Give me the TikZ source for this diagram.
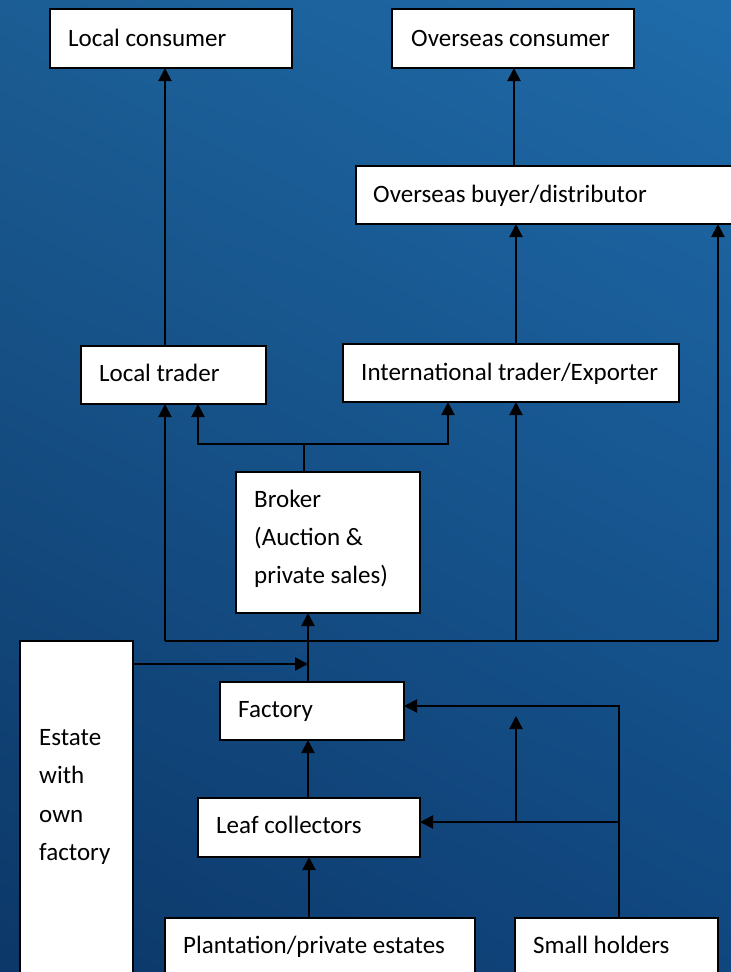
\documentclass[tikz,border=0pt]{standalone}
\usepackage{fontspec}
\setmainfont{Carlito}
\usetikzlibrary{arrows.meta,shadings}
\definecolor{bgUL}{RGB}{27,93,148}
\definecolor{bgUR}{RGB}{31,107,170}
\definecolor{bgLL}{RGB}{12,55,104}
\definecolor{bgLR}{RGB}{16,70,126}
\newcommand{\diagbox}[5]{\node[box,anchor=north west,minimum width={(#4-#2)*1pt},minimum height={(#5-#3)*1pt}] (#1) at (#2,#3) {};}
\begin{document}
\begin{tikzpicture}[x=1pt,y=-1pt,
  box/.style={draw=black,fill=white,line width=1.8pt,rectangle,inner sep=0pt,outer sep=0pt},
  txt/.style={anchor=base west,inner sep=0pt,font=\fontsize{25}{30}\selectfont},
  conn/.style={line width=2pt,draw=black},
  arr/.style={conn,-{Triangle[length=13pt,width=13pt]}}]
\useasboundingbox (0,0) rectangle (731,972);
\clip (0,0) rectangle (731,972);
\shade[upper left=bgUL,upper right=bgUR,lower left=bgLL,lower right=bgLR] (0,0) rectangle (731,972);

% boxes
\diagbox{lc}{50}{9}{292}{68}
\diagbox{oc}{392}{9}{634}{68}
\diagbox{ob}{356}{166}{740}{224}
\diagbox{lt}{81}{346}{266}{404}
\diagbox{it}{343}{344}{679}{402}
\diagbox{bk}{236}{472}{420}{613}
\diagbox{es}{20}{641}{133}{985}
\diagbox{fa}{220}{682}{404}{740}
\diagbox{lf}{198}{798}{420}{857}
\diagbox{pl}{165}{918}{475}{985}
\diagbox{sh}{515}{918}{718}{985}

% texts
\node[txt] (lc-t) at (68,46) {Local consumer};
\node[txt] (oc-t) at (411,46) {Overseas consumer};
\node[txt] (ob-t) at (373,202) {Overseas buyer/distributor};
\node[txt] (lt-t) at (99,381) {Local trader};
\node[txt] (it-t) at (361,380) {International trader/Exporter};
\node[txt] (bk-t1) at (254,507) {Broker};
\node[txt] (bk-t2) at (254,545) {(Auction \&};
\node[txt] (bk-t3) at (254,583) {private sales)};
\node[txt] (es-t1) at (39,745) {Estate};
\node[txt] (es-t2) at (39,783) {with};
\node[txt] (es-t3) at (39,822) {own};
\node[txt] (es-t4) at (39,860) {factory};
\node[txt] (fa-t) at (238,717) {Factory};
\node[txt] (lf-t) at (216,833) {Leaf collectors};
\node[txt] (pl-t) at (183,953) {Plantation/private estates};
\node[txt] (sh-t) at (533,953) {Small holders};

% helper coordinates
\coordinate (xA) at (165,0);
\coordinate (xB) at (514,0);
\coordinate (xC) at (516,0);
\coordinate (xE) at (308,0);
\coordinate (xF) at (619,0);
\coordinate (bj) at (304,444);
\coordinate (bl) at (165,641);
\coordinate (br) at (718,641);
\coordinate (bm) at (516,641);
\coordinate (ej) at (308,664);
\coordinate (sj) at (619,822);
\coordinate (uj) at (516,822);
\coordinate (ut) at (516,716);

% connectors upper part
\draw[arr] (lt.north -| xA) -- (lc.south -| xA);
\draw[arr] (ob.north -| xB) -- (oc.south -| xB);
\draw[arr] (it.north -| xC) -- (ob.south -| xC);

% broker to traders
\draw[conn] (bk.north -| bj) -- (bj);
\draw[arr] (bj) -| (lt.south -| 198,0);
\draw[arr] (bj) -| (it.south -| 448,0);

% big horizontal distribution line
\draw[conn] (bl) -- (br);
\draw[arr] (bl) -- (lt.south -| bl);
\draw[arr] (bm) -- (it.south -| bm);
\draw[arr] (br) -- (ob.south -| br);

% factory chain
\draw[arr] (fa.north -| xE) -- (bk.south -| xE);
\draw[arr] (es.east |- ej) -- (ej);
\draw[arr] (lf.north -| xE) -- (fa.south -| xE);
\draw[arr] (pl.north -| 309,0) -- (lf.south -| 309,0);

% small holders
\draw[arr] (sh.north -| xF) |- (fa.east |- 0,706);
\draw[arr] (sj) -- (lf.east |- sj);
\draw[arr] (uj) -- (ut);
\end{tikzpicture}
\end{document}
